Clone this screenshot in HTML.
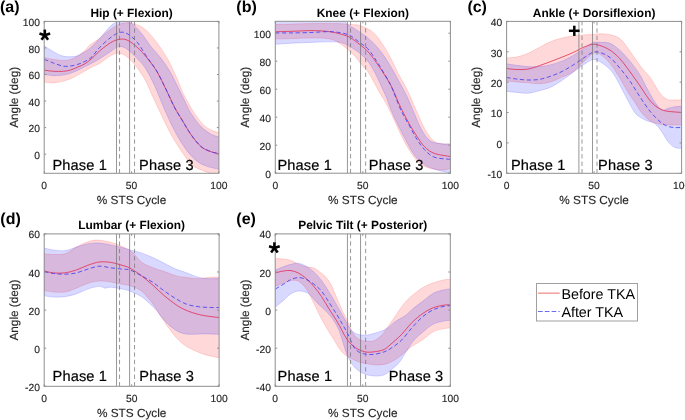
<!DOCTYPE html><html><head><meta charset="utf-8"><style>html,body{margin:0;padding:0;background:#fff;width:685px;height:420px;overflow:hidden}svg{display:block;will-change:transform}text{font-family:"Liberation Sans",sans-serif;text-rendering:geometricPrecision}</style></head><body>
<svg width="685" height="420" viewBox="0 0 685 420">
<rect width="685" height="420" fill="#fff"/>
<defs>
<clipPath id="ca"><rect x="44.2" y="21.4" width="174.7" height="151.9"/></clipPath>
<clipPath id="cb"><rect x="275.3" y="21.3" width="175.1" height="151.9"/></clipPath>
<clipPath id="cc"><rect x="506.6" y="21.4" width="175" height="151.9"/></clipPath>
<clipPath id="cd"><rect x="44.2" y="233.9" width="174.9" height="152.4"/></clipPath>
<clipPath id="ce"><rect x="275.2" y="233.9" width="175.1" height="152.4"/></clipPath>
</defs>
<g clip-path="url(#ca)">
<path d="M44.30,57.50C45.90,57.83 50.72,59.00 53.90,59.50C57.08,60.00 60.62,60.50 63.40,60.50C66.18,60.50 68.22,60.25 70.60,59.50C72.98,58.75 75.32,57.50 77.70,56.00C80.08,54.50 82.85,52.33 84.90,50.50C86.95,48.67 87.58,47.01 90.00,45.00C92.42,42.99 95.92,41.09 99.40,38.44C102.88,35.78 107.08,31.58 110.90,29.06C114.72,26.53 118.48,24.19 122.30,23.30C126.12,22.41 129.98,22.68 133.80,23.70C137.62,24.72 141.38,26.28 145.20,29.40C149.02,32.52 152.88,37.33 156.70,42.41C160.52,47.48 164.55,53.43 168.10,59.85C171.65,66.27 175.35,75.06 178.00,80.92C180.65,86.78 181.20,89.54 184.00,95.00C186.80,100.46 191.32,108.50 194.80,113.70C198.28,118.90 201.53,123.22 204.90,126.20C208.27,129.18 212.57,130.62 215.00,131.58C217.43,132.55 218.75,131.93 219.50,132.00L219.50,175.00C218.08,174.71 214.45,174.30 211.00,173.29C207.55,172.28 202.18,170.52 198.80,168.92C195.42,167.33 193.73,166.89 190.70,163.72C187.67,160.55 183.97,154.93 180.60,149.91C177.23,144.89 173.87,139.78 170.50,133.60C167.13,127.42 163.57,119.47 160.40,112.86C157.23,106.25 154.03,99.42 151.50,93.94C148.97,88.46 147.83,84.70 145.20,79.99C142.57,75.29 138.88,69.68 135.70,65.70C132.52,61.72 128.97,58.17 126.10,56.10C123.23,54.03 121.03,53.40 118.50,53.30C115.97,53.20 114.08,53.80 110.90,55.50C107.72,57.20 102.55,61.58 99.40,63.50C96.25,65.42 94.42,65.75 92.00,67.00C89.58,68.25 87.28,69.65 84.90,71.00C82.52,72.35 80.08,73.82 77.70,75.10C75.32,76.38 72.98,77.70 70.60,78.70C68.22,79.70 66.18,80.40 63.40,81.10C60.62,81.80 57.08,82.70 53.90,82.90C50.72,83.10 45.90,82.40 44.30,82.30Z" fill="rgb(255,0,0)" fill-opacity="0.15" stroke="rgb(255,0,0)" stroke-opacity="0.18" stroke-width="0.8"/>
<path d="M44.30,46.00C45.90,46.98 51.12,50.32 53.90,51.90C56.68,53.48 58.62,54.70 61.00,55.50C63.38,56.30 65.62,56.60 68.20,56.70C70.78,56.80 74.12,56.70 76.50,56.10C78.88,55.50 80.32,54.37 82.50,53.10C84.68,51.83 86.78,50.90 89.60,48.50C92.42,46.10 95.85,42.54 99.40,38.72C102.95,34.90 107.72,28.47 110.90,25.60C114.08,22.73 116.60,22.35 118.50,21.50C120.40,20.65 120.07,20.13 122.30,20.50C124.53,20.87 128.72,21.57 131.90,23.70C135.08,25.83 138.23,29.52 141.40,33.30C144.57,37.08 147.72,42.33 150.90,46.38C154.08,50.42 157.32,53.36 160.50,57.55C163.68,61.73 167.08,66.55 170.00,71.50C172.92,76.45 175.90,83.12 178.00,87.27C180.10,91.43 180.48,92.20 182.60,96.42C184.72,100.65 187.65,107.64 190.70,112.63C193.75,117.62 197.52,122.76 200.90,126.35C204.28,129.94 207.90,132.39 211.00,134.18C214.10,135.98 218.08,136.61 219.50,137.10L219.50,169.50C217.07,168.85 209.02,167.31 204.90,165.62C200.78,163.93 198.17,162.37 194.80,159.38C191.43,156.39 188.08,152.49 184.70,147.69C181.32,142.89 177.88,136.99 174.50,130.57C171.12,124.15 167.70,116.58 164.40,109.15C161.10,101.72 157.90,92.87 154.70,86.00C151.50,79.13 148.37,72.76 145.20,67.95C142.03,63.13 138.88,60.34 135.70,57.10C132.52,53.86 128.97,50.25 126.10,48.50C123.23,46.75 121.03,46.12 118.50,46.60C115.97,47.08 114.08,49.33 110.90,51.40C107.72,53.47 102.55,57.03 99.40,59.00C96.25,60.97 94.42,61.90 92.00,63.20C89.58,64.50 87.28,65.60 84.90,66.80C82.52,68.00 80.08,69.32 77.70,70.40C75.32,71.48 72.98,72.52 70.60,73.30C68.22,74.08 66.18,74.70 63.40,75.10C60.62,75.50 57.08,75.80 53.90,75.70C50.72,75.60 45.90,74.70 44.30,74.50Z" fill="rgb(0,0,255)" fill-opacity="0.15" stroke="rgb(0,0,255)" stroke-opacity="0.18" stroke-width="0.8"/>
<path d="M44.30,70.20C45.90,70.38 50.72,71.12 53.90,71.30C57.08,71.48 60.62,71.52 63.40,71.30C66.18,71.08 68.22,70.70 70.60,70.00C72.98,69.30 75.32,68.13 77.70,67.10C80.08,66.07 82.52,65.26 84.90,63.80C87.28,62.34 89.58,60.44 92.00,58.33C94.42,56.22 96.25,53.79 99.40,51.15C102.55,48.50 107.40,44.47 110.90,42.47C114.40,40.47 117.55,39.47 120.40,39.14C123.25,38.82 125.13,39.09 128.00,40.50C130.87,41.91 134.42,44.68 137.60,47.60C140.78,50.52 143.92,54.09 147.10,58.03C150.28,61.97 153.50,65.90 156.70,71.23C159.90,76.56 163.33,84.03 166.30,90.01C169.27,95.98 171.78,101.93 174.50,107.08C177.22,112.22 179.90,116.34 182.60,120.86C185.30,125.39 187.65,129.93 190.70,134.20C193.75,138.47 197.52,143.58 200.90,146.50C204.28,149.42 207.90,150.48 211.00,151.70C214.10,152.92 218.08,153.45 219.50,153.80" fill="none" stroke="rgb(226,40,80)" stroke-width="0.78"/>
<path d="M44.30,59.30C45.90,59.95 50.72,62.05 53.90,63.20C57.08,64.35 60.62,65.73 63.40,66.20C66.18,66.67 68.22,66.30 70.60,66.00C72.98,65.70 75.32,65.17 77.70,64.40C80.08,63.63 82.52,62.68 84.90,61.40C87.28,60.12 89.58,58.98 92.00,56.70C94.42,54.42 96.25,50.95 99.40,47.72C102.55,44.49 107.40,39.89 110.90,37.32C114.40,34.75 117.55,32.82 120.40,32.30C123.25,31.78 125.13,32.45 128.00,34.20C130.87,35.95 134.42,38.95 137.60,42.80C140.78,46.65 143.92,52.61 147.10,57.31C150.28,62.01 153.50,65.56 156.70,71.00C159.90,76.44 163.33,83.86 166.30,89.96C169.27,96.06 171.78,102.43 174.50,107.60C177.22,112.77 179.90,116.55 182.60,120.98C185.30,125.42 187.65,129.95 190.70,134.20C193.75,138.45 197.52,143.58 200.90,146.50C204.28,149.42 207.90,150.48 211.00,151.70C214.10,152.92 218.08,153.45 219.50,153.80" fill="none" stroke="rgb(60,60,242)" stroke-width="0.82" stroke-dasharray="4.2,2.6"/>
<line x1="116.5" y1="21.4" x2="116.5" y2="173.3" stroke="#767676" stroke-width="0.75"/>
<line x1="129.6" y1="21.4" x2="129.6" y2="173.3" stroke="#767676" stroke-width="0.75"/>
<line x1="119.55" y1="173.3" x2="119.55" y2="21.4" stroke="#767676" stroke-width="0.75" stroke-dasharray="4.3,3.1"/>
<line x1="134.55" y1="173.3" x2="134.55" y2="21.4" stroke="#767676" stroke-width="0.75" stroke-dasharray="4.3,3.1"/>
</g>
<rect x="44.2" y="21.4" width="174.7" height="151.9" fill="none" stroke="#8f8f8f" stroke-width="1"/>
<line x1="44.2" y1="173.3" x2="44.2" y2="171.3" stroke="#8f8f8f" stroke-width="1"/>
<line x1="44.2" y1="21.4" x2="44.2" y2="23.4" stroke="#8f8f8f" stroke-width="1"/>
<line x1="131.55" y1="173.3" x2="131.55" y2="171.3" stroke="#8f8f8f" stroke-width="1"/>
<line x1="131.55" y1="21.4" x2="131.55" y2="23.4" stroke="#8f8f8f" stroke-width="1"/>
<line x1="218.9" y1="173.3" x2="218.9" y2="171.3" stroke="#8f8f8f" stroke-width="1"/>
<line x1="218.9" y1="21.4" x2="218.9" y2="23.4" stroke="#8f8f8f" stroke-width="1"/>
<line x1="44.2" y1="154.18" x2="46.2" y2="154.18" stroke="#8f8f8f" stroke-width="1"/>
<line x1="218.9" y1="154.18" x2="216.9" y2="154.18" stroke="#8f8f8f" stroke-width="1"/>
<line x1="44.2" y1="127.624" x2="46.2" y2="127.624" stroke="#8f8f8f" stroke-width="1"/>
<line x1="218.9" y1="127.624" x2="216.9" y2="127.624" stroke="#8f8f8f" stroke-width="1"/>
<line x1="44.2" y1="101.068" x2="46.2" y2="101.068" stroke="#8f8f8f" stroke-width="1"/>
<line x1="218.9" y1="101.068" x2="216.9" y2="101.068" stroke="#8f8f8f" stroke-width="1"/>
<line x1="44.2" y1="74.5119" x2="46.2" y2="74.5119" stroke="#8f8f8f" stroke-width="1"/>
<line x1="218.9" y1="74.5119" x2="216.9" y2="74.5119" stroke="#8f8f8f" stroke-width="1"/>
<line x1="44.2" y1="47.9559" x2="46.2" y2="47.9559" stroke="#8f8f8f" stroke-width="1"/>
<line x1="218.9" y1="47.9559" x2="216.9" y2="47.9559" stroke="#8f8f8f" stroke-width="1"/>
<line x1="44.2" y1="21.4" x2="46.2" y2="21.4" stroke="#8f8f8f" stroke-width="1"/>
<line x1="218.9" y1="21.4" x2="216.9" y2="21.4" stroke="#8f8f8f" stroke-width="1"/>
<g clip-path="url(#cb)">
<path d="M275.30,24.50C278.08,24.43 286.03,24.25 292.00,24.10C297.97,23.95 304.73,23.69 311.10,23.60C317.47,23.51 325.12,23.57 330.20,23.59C335.28,23.60 337.78,23.51 341.60,23.70C345.42,23.89 350.03,24.40 353.10,24.70C356.17,25.00 356.95,24.45 360.00,25.50C363.05,26.55 368.23,28.75 371.40,31.00C374.57,33.25 376.13,35.13 379.00,39.00C381.87,42.87 385.42,48.50 388.60,54.20C391.78,59.90 395.25,67.73 398.10,73.20C400.95,78.67 403.72,83.20 405.70,87.00C407.68,90.80 408.17,91.93 410.00,96.00C411.83,100.07 414.28,106.04 416.70,111.44C419.12,116.83 421.90,123.68 424.50,128.39C427.10,133.09 429.70,137.14 432.30,139.67C434.90,142.20 437.07,142.90 440.10,143.57C443.13,144.24 448.77,143.68 450.50,143.70L450.50,168.80C448.77,169.01 444.12,170.34 440.10,170.08C436.08,169.81 429.98,168.50 426.40,167.20C422.82,165.90 421.20,164.73 418.60,162.30C416.00,159.87 413.40,156.50 410.80,152.60C408.20,148.70 405.60,143.95 403.00,138.90C400.40,133.85 397.80,127.83 395.20,122.30C392.60,116.77 390.05,110.75 387.40,105.70C384.75,100.65 381.65,96.13 379.30,92.00C376.95,87.87 375.25,84.35 373.30,80.90C371.35,77.45 369.82,74.32 367.60,71.30C365.38,68.28 362.42,65.65 360.00,62.80C357.58,59.95 356.17,57.22 353.10,54.20C350.03,51.18 345.42,47.23 341.60,44.70C337.78,42.17 335.28,40.12 330.20,39.00C325.12,37.88 317.47,38.07 311.10,38.00C304.73,37.93 297.97,38.43 292.00,38.60C286.03,38.77 278.08,38.93 275.30,39.00Z" fill="rgb(255,0,0)" fill-opacity="0.15" stroke="rgb(255,0,0)" stroke-opacity="0.18" stroke-width="0.8"/>
<path d="M275.30,19.50C279.42,19.50 289.58,19.50 300.00,19.50C310.42,19.50 329.58,18.48 337.80,19.50C346.02,20.52 345.60,23.48 349.30,25.60C353.00,27.72 356.32,29.65 360.00,32.20C363.68,34.75 367.58,37.23 371.40,40.90C375.22,44.57 379.40,49.45 382.90,54.20C386.40,58.95 389.23,64.00 392.40,69.40C395.57,74.80 399.50,82.17 401.90,86.60C404.30,91.03 404.98,92.14 406.80,96.00C408.62,99.86 410.50,104.47 412.80,109.76C415.10,115.05 418.00,122.80 420.60,127.73C423.20,132.66 425.80,136.79 428.40,139.34C431.00,141.89 432.52,142.20 436.20,143.04C439.88,143.89 448.12,144.17 450.50,144.40L450.50,173.10C448.12,172.53 440.53,171.08 436.20,169.70C431.87,168.32 428.08,167.16 424.50,164.80C420.92,162.44 417.63,159.27 414.70,155.52C411.77,151.77 409.50,147.03 406.90,142.31C404.30,137.59 401.70,132.48 399.10,127.20C396.50,121.92 393.37,115.43 391.30,110.60C389.23,105.77 388.42,102.35 386.70,98.20C384.98,94.05 382.92,89.87 381.00,85.70C379.08,81.53 377.43,77.33 375.20,73.20C372.97,69.07 370.13,64.18 367.60,60.90C365.07,57.62 362.42,55.57 360.00,53.50C357.58,51.43 356.17,50.28 353.10,48.50C350.03,46.72 345.42,43.92 341.60,42.80C337.78,41.68 335.28,41.87 330.20,41.80C325.12,41.73 317.47,42.17 311.10,42.40C304.73,42.63 297.97,42.88 292.00,43.20C286.03,43.52 278.08,44.12 275.30,44.30Z" fill="rgb(0,0,255)" fill-opacity="0.15" stroke="rgb(0,0,255)" stroke-opacity="0.18" stroke-width="0.8"/>
<path d="M275.30,31.70C278.08,31.63 286.03,31.48 292.00,31.30C297.97,31.12 305.37,30.60 311.10,30.60C316.83,30.60 321.95,30.85 326.40,31.30C330.85,31.75 333.98,32.33 337.80,33.30C341.62,34.27 345.60,35.20 349.30,37.10C353.00,39.00 356.95,42.33 360.00,44.70C363.05,47.07 365.07,48.60 367.60,51.30C370.13,54.00 372.65,57.40 375.20,60.90C377.75,64.40 380.35,68.33 382.90,72.30C385.45,76.27 388.45,80.92 390.50,84.70C392.55,88.48 393.45,91.05 395.20,94.95C396.95,98.85 398.72,103.38 401.00,108.10C403.28,112.82 406.28,118.65 408.90,123.30C411.52,127.95 414.10,132.10 416.70,136.00C419.30,139.90 421.58,143.81 424.50,146.70C427.42,149.59 429.87,151.68 434.20,153.33C438.53,154.98 447.78,156.06 450.50,156.60" fill="none" stroke="rgb(226,40,80)" stroke-width="0.78"/>
<path d="M275.30,32.90C278.08,32.90 286.03,32.97 292.00,32.90C297.97,32.83 305.37,32.70 311.10,32.50C316.83,32.30 321.95,31.73 326.40,31.70C330.85,31.67 333.98,31.72 337.80,32.30C341.62,32.88 345.60,33.45 349.30,35.20C353.00,36.95 356.95,40.58 360.00,42.80C363.05,45.02 365.07,45.80 367.60,48.50C370.13,51.20 372.65,55.20 375.20,59.00C377.75,62.80 380.35,67.02 382.90,71.30C385.45,75.58 388.45,80.59 390.50,84.70C392.55,88.81 393.45,91.69 395.20,95.97C396.95,100.24 398.72,105.54 401.00,110.35C403.28,115.16 406.28,120.03 408.90,124.80C411.52,129.58 414.10,134.85 416.70,138.98C419.30,143.12 421.58,146.59 424.50,149.61C427.42,152.64 429.87,155.52 434.20,157.15C438.53,158.78 447.78,159.03 450.50,159.40" fill="none" stroke="rgb(60,60,242)" stroke-width="0.82" stroke-dasharray="4.2,2.6"/>
<line x1="347.45" y1="21.3" x2="347.45" y2="173.2" stroke="#767676" stroke-width="0.75"/>
<line x1="360.55" y1="21.3" x2="360.55" y2="173.2" stroke="#767676" stroke-width="0.75"/>
<line x1="350.55" y1="173.2" x2="350.55" y2="21.3" stroke="#767676" stroke-width="0.75" stroke-dasharray="4.3,3.1"/>
<line x1="365.65" y1="173.2" x2="365.65" y2="21.3" stroke="#767676" stroke-width="0.75" stroke-dasharray="4.3,3.1"/>
</g>
<rect x="275.3" y="21.3" width="175.1" height="151.9" fill="none" stroke="#8f8f8f" stroke-width="1"/>
<line x1="275.3" y1="173.2" x2="275.3" y2="171.2" stroke="#8f8f8f" stroke-width="1"/>
<line x1="275.3" y1="21.3" x2="275.3" y2="23.3" stroke="#8f8f8f" stroke-width="1"/>
<line x1="362.85" y1="173.2" x2="362.85" y2="171.2" stroke="#8f8f8f" stroke-width="1"/>
<line x1="362.85" y1="21.3" x2="362.85" y2="23.3" stroke="#8f8f8f" stroke-width="1"/>
<line x1="450.4" y1="173.2" x2="450.4" y2="171.2" stroke="#8f8f8f" stroke-width="1"/>
<line x1="450.4" y1="21.3" x2="450.4" y2="23.3" stroke="#8f8f8f" stroke-width="1"/>
<line x1="275.3" y1="173.2" x2="277.3" y2="173.2" stroke="#8f8f8f" stroke-width="1"/>
<line x1="450.4" y1="173.2" x2="448.4" y2="173.2" stroke="#8f8f8f" stroke-width="1"/>
<line x1="275.3" y1="145.2" x2="277.3" y2="145.2" stroke="#8f8f8f" stroke-width="1"/>
<line x1="450.4" y1="145.2" x2="448.4" y2="145.2" stroke="#8f8f8f" stroke-width="1"/>
<line x1="275.3" y1="117.2" x2="277.3" y2="117.2" stroke="#8f8f8f" stroke-width="1"/>
<line x1="450.4" y1="117.2" x2="448.4" y2="117.2" stroke="#8f8f8f" stroke-width="1"/>
<line x1="275.3" y1="89.2" x2="277.3" y2="89.2" stroke="#8f8f8f" stroke-width="1"/>
<line x1="450.4" y1="89.2" x2="448.4" y2="89.2" stroke="#8f8f8f" stroke-width="1"/>
<line x1="275.3" y1="61.2" x2="277.3" y2="61.2" stroke="#8f8f8f" stroke-width="1"/>
<line x1="450.4" y1="61.2" x2="448.4" y2="61.2" stroke="#8f8f8f" stroke-width="1"/>
<line x1="275.3" y1="33.2" x2="277.3" y2="33.2" stroke="#8f8f8f" stroke-width="1"/>
<line x1="450.4" y1="33.2" x2="448.4" y2="33.2" stroke="#8f8f8f" stroke-width="1"/>
<g clip-path="url(#cc)">
<path d="M506.50,58.00C508.15,57.85 512.83,57.88 516.40,57.10C519.97,56.32 524.08,54.90 527.90,53.30C531.72,51.70 535.48,49.47 539.30,47.50C543.12,45.53 546.98,43.08 550.80,41.50C554.62,39.92 558.40,38.95 562.20,38.00C566.00,37.05 569.78,36.33 573.60,35.80C577.42,35.27 581.87,35.00 585.10,34.80C588.33,34.60 590.42,34.77 593.00,34.60C595.58,34.43 597.43,33.72 600.60,33.80C603.77,33.88 608.48,34.02 612.00,35.10C615.52,36.18 618.15,36.82 621.70,40.30C625.25,43.77 629.97,51.39 633.30,55.97C636.63,60.54 638.92,64.23 641.70,67.77C644.48,71.30 647.78,74.22 650.00,77.15C652.22,80.08 653.33,82.67 655.00,85.36C656.67,88.05 658.05,90.99 660.00,93.30C661.95,95.61 664.48,98.08 666.70,99.20C668.92,100.32 670.67,99.92 673.30,100.00C675.93,100.08 680.97,99.75 682.50,99.70L682.50,125.00C680.42,125.00 673.75,125.13 670.00,125.00C666.25,124.87 663.33,124.90 660.00,124.20C656.67,123.50 653.17,122.85 650.00,120.80C646.83,118.75 643.50,114.94 641.00,111.89C638.50,108.84 637.17,105.74 635.00,102.50C632.83,99.26 630.50,96.45 628.00,92.43C625.50,88.41 623.00,83.23 620.00,78.40C617.00,73.57 613.33,67.46 610.00,63.44C606.67,59.43 602.83,55.96 600.00,54.30C597.17,52.64 595.48,52.47 593.00,53.50C590.52,54.53 588.33,57.50 585.10,60.48C581.87,63.47 577.42,68.63 573.60,71.40C569.78,74.17 566.00,75.35 562.20,77.10C558.40,78.85 554.62,80.78 550.80,81.90C546.98,83.02 543.12,83.65 539.30,83.80C535.48,83.95 531.72,83.12 527.90,82.80C524.08,82.48 519.97,82.22 516.40,81.90C512.83,81.58 508.15,81.07 506.50,80.90Z" fill="rgb(255,0,0)" fill-opacity="0.15" stroke="rgb(255,0,0)" stroke-opacity="0.18" stroke-width="0.8"/>
<path d="M506.50,63.80C508.15,64.05 512.83,64.83 516.40,65.30C519.97,65.77 524.08,66.38 527.90,66.60C531.72,66.82 535.48,66.92 539.30,66.60C543.12,66.28 546.98,65.65 550.80,64.70C554.62,63.75 558.40,62.48 562.20,60.90C566.00,59.32 569.78,57.42 573.60,55.20C577.42,52.98 581.87,49.70 585.10,47.60C588.33,45.50 590.52,43.48 593.00,42.60C595.48,41.72 597.17,42.19 600.00,42.30C602.83,42.41 606.67,41.92 610.00,43.27C613.33,44.62 616.67,47.44 620.00,50.42C623.33,53.40 626.67,57.09 630.00,61.17C633.33,65.25 637.22,70.47 640.00,74.90C642.78,79.33 644.20,83.20 646.70,87.77C649.20,92.33 652.50,98.58 655.00,102.29C657.50,105.99 659.48,109.00 661.70,110.00C663.92,111.00 666.08,108.85 668.30,108.30C670.52,107.75 672.63,107.03 675.00,106.70C677.37,106.37 681.25,106.37 682.50,106.30L682.50,148.30C681.25,148.17 677.37,148.54 675.00,147.50C672.63,146.46 670.52,144.72 668.30,142.08C666.08,139.45 663.92,134.74 661.70,131.68C659.48,128.63 657.78,125.72 655.00,123.77C652.22,121.82 648.05,121.46 645.00,119.97C641.95,118.48 638.92,116.89 636.70,114.82C634.48,112.75 633.65,110.84 631.70,107.53C629.75,104.23 627.50,99.74 625.00,95.01C622.50,90.27 619.20,83.39 616.70,79.13C614.20,74.87 612.78,72.35 610.00,69.44C607.22,66.52 602.83,63.30 600.00,61.65C597.17,60.00 595.48,59.19 593.00,59.55C590.52,59.91 588.33,61.72 585.10,63.81C581.87,65.90 577.42,69.35 573.60,72.09C569.78,74.84 566.00,77.77 562.20,80.28C558.40,82.79 554.62,85.40 550.80,87.15C546.98,88.89 543.12,89.73 539.30,90.75C535.48,91.78 531.72,93.03 527.90,93.30C524.08,93.57 519.97,92.72 516.40,92.40C512.83,92.08 508.15,91.57 506.50,91.40Z" fill="rgb(0,0,255)" fill-opacity="0.15" stroke="rgb(0,0,255)" stroke-opacity="0.18" stroke-width="0.8"/>
<path d="M506.50,68.50C508.15,68.67 512.83,69.40 516.40,69.50C519.97,69.60 524.08,69.73 527.90,69.10C531.72,68.47 535.48,66.97 539.30,65.70C543.12,64.43 546.98,62.93 550.80,61.50C554.62,60.07 558.40,58.63 562.20,57.10C566.00,55.57 569.78,54.05 573.60,52.30C577.42,50.55 581.87,47.93 585.10,46.60C588.33,45.27 590.52,44.48 593.00,44.30C595.48,44.12 597.17,44.52 600.00,45.50C602.83,46.48 606.67,47.93 610.00,50.16C613.33,52.38 616.67,55.25 620.00,58.86C623.33,62.47 626.67,67.32 630.00,71.82C633.33,76.33 637.00,81.55 640.00,85.90C643.00,90.25 645.50,94.66 648.00,97.94C650.50,101.22 652.45,103.50 655.00,105.56C657.55,107.62 660.52,109.28 663.30,110.30C666.08,111.32 668.50,111.33 671.70,111.70C674.90,112.07 680.70,112.37 682.50,112.50" fill="none" stroke="rgb(226,40,80)" stroke-width="0.78"/>
<path d="M506.50,77.50C508.15,77.75 512.83,78.58 516.40,79.00C519.97,79.42 524.08,79.93 527.90,80.00C531.72,80.07 535.48,80.03 539.30,79.40C543.12,78.77 546.98,77.53 550.80,76.20C554.62,74.87 558.40,73.32 562.20,71.40C566.00,69.48 569.78,67.10 573.60,64.70C577.42,62.30 581.87,59.07 585.10,57.00C588.33,54.93 590.52,53.05 593.00,52.30C595.48,51.55 597.17,51.63 600.00,52.50C602.83,53.37 606.67,54.87 610.00,57.50C613.33,60.13 616.67,64.34 620.00,68.30C623.33,72.26 626.67,76.46 630.00,81.24C633.33,86.01 636.67,91.96 640.00,96.95C643.33,101.95 646.67,107.08 650.00,111.20C653.33,115.32 657.22,119.27 660.00,121.70C662.78,124.13 664.48,124.83 666.70,125.80C668.92,126.77 670.67,127.22 673.30,127.50C675.93,127.78 680.97,127.50 682.50,127.50" fill="none" stroke="rgb(60,60,242)" stroke-width="0.82" stroke-dasharray="4.2,2.6"/>
<line x1="578.9" y1="21.4" x2="578.9" y2="173.3" stroke="#767676" stroke-width="0.75"/>
<line x1="592.5" y1="21.4" x2="592.5" y2="173.3" stroke="#767676" stroke-width="0.75"/>
<line x1="582" y1="173.3" x2="582" y2="21.4" stroke="#767676" stroke-width="0.75" stroke-dasharray="4.3,3.1"/>
<line x1="597" y1="173.3" x2="597" y2="21.4" stroke="#767676" stroke-width="0.75" stroke-dasharray="4.3,3.1"/>
</g>
<rect x="506.6" y="21.4" width="175" height="151.9" fill="none" stroke="#8f8f8f" stroke-width="1"/>
<line x1="506.6" y1="173.3" x2="506.6" y2="171.3" stroke="#8f8f8f" stroke-width="1"/>
<line x1="506.6" y1="21.4" x2="506.6" y2="23.4" stroke="#8f8f8f" stroke-width="1"/>
<line x1="594.1" y1="173.3" x2="594.1" y2="171.3" stroke="#8f8f8f" stroke-width="1"/>
<line x1="594.1" y1="21.4" x2="594.1" y2="23.4" stroke="#8f8f8f" stroke-width="1"/>
<line x1="681.6" y1="173.3" x2="681.6" y2="171.3" stroke="#8f8f8f" stroke-width="1"/>
<line x1="681.6" y1="21.4" x2="681.6" y2="23.4" stroke="#8f8f8f" stroke-width="1"/>
<line x1="506.6" y1="173.3" x2="508.6" y2="173.3" stroke="#8f8f8f" stroke-width="1"/>
<line x1="681.6" y1="173.3" x2="679.6" y2="173.3" stroke="#8f8f8f" stroke-width="1"/>
<line x1="506.6" y1="142.92" x2="508.6" y2="142.92" stroke="#8f8f8f" stroke-width="1"/>
<line x1="681.6" y1="142.92" x2="679.6" y2="142.92" stroke="#8f8f8f" stroke-width="1"/>
<line x1="506.6" y1="112.54" x2="508.6" y2="112.54" stroke="#8f8f8f" stroke-width="1"/>
<line x1="681.6" y1="112.54" x2="679.6" y2="112.54" stroke="#8f8f8f" stroke-width="1"/>
<line x1="506.6" y1="82.16" x2="508.6" y2="82.16" stroke="#8f8f8f" stroke-width="1"/>
<line x1="681.6" y1="82.16" x2="679.6" y2="82.16" stroke="#8f8f8f" stroke-width="1"/>
<line x1="506.6" y1="51.78" x2="508.6" y2="51.78" stroke="#8f8f8f" stroke-width="1"/>
<line x1="681.6" y1="51.78" x2="679.6" y2="51.78" stroke="#8f8f8f" stroke-width="1"/>
<line x1="506.6" y1="21.4" x2="508.6" y2="21.4" stroke="#8f8f8f" stroke-width="1"/>
<line x1="681.6" y1="21.4" x2="679.6" y2="21.4" stroke="#8f8f8f" stroke-width="1"/>
<g clip-path="url(#cd)">
<path d="M44.30,253.80C45.82,253.90 49.97,254.40 53.40,254.40C56.83,254.40 61.08,255.02 64.90,253.80C68.72,252.58 72.48,249.10 76.30,247.10C80.12,245.10 84.30,242.97 87.80,241.80C91.30,240.63 93.50,240.02 97.30,240.10C101.10,240.18 106.47,241.25 110.60,242.30C114.73,243.35 118.53,244.78 122.10,246.40C125.67,248.02 128.78,249.40 132.00,252.00C135.22,254.60 137.92,259.38 141.40,262.00C144.88,264.62 149.08,266.12 152.90,267.70C156.72,269.28 160.50,270.17 164.30,271.50C168.10,272.83 171.90,274.68 175.70,275.70C179.50,276.72 183.28,277.12 187.10,277.60C190.92,278.08 194.78,278.67 198.60,278.60C202.42,278.53 206.52,277.43 210.00,277.20C213.48,276.97 217.92,277.20 219.50,277.20L219.50,357.90C217.10,357.37 209.30,355.95 205.10,354.70C200.90,353.45 197.52,351.83 194.30,350.40C191.08,348.97 188.65,348.07 185.80,346.10C182.95,344.13 180.07,341.63 177.20,338.60C174.33,335.57 171.47,331.83 168.60,327.90C165.73,323.97 162.60,318.98 160.00,315.00C157.40,311.02 154.83,306.67 153.00,304.00C151.17,301.33 150.93,301.17 149.00,299.00C147.07,296.83 144.40,293.17 141.40,291.00C138.40,288.83 134.22,287.12 131.00,286.00C127.78,284.88 125.50,284.98 122.10,284.30C118.70,283.62 114.42,282.43 110.60,281.90C106.78,281.37 103.00,280.85 99.20,281.10C95.40,281.35 91.62,282.22 87.80,283.40C83.98,284.58 80.12,286.77 76.30,288.20C72.48,289.63 68.72,291.37 64.90,292.00C61.08,292.63 56.83,292.23 53.40,292.00C49.97,291.77 45.82,290.83 44.30,290.60Z" fill="rgb(255,0,0)" fill-opacity="0.15" stroke="rgb(255,0,0)" stroke-opacity="0.18" stroke-width="0.8"/>
<path d="M44.30,248.10C45.82,248.42 49.97,249.58 53.40,250.00C56.83,250.42 61.08,251.07 64.90,250.60C68.72,250.13 72.48,248.35 76.30,247.20C80.12,246.05 83.98,244.40 87.80,243.70C91.62,243.00 95.40,242.80 99.20,243.00C103.00,243.20 106.78,244.15 110.60,244.90C114.42,245.65 118.53,246.57 122.10,247.50C125.67,248.43 128.78,249.60 132.00,250.50C135.22,251.40 137.92,251.72 141.40,252.90C144.88,254.08 149.08,255.87 152.90,257.60C156.72,259.33 160.50,261.40 164.30,263.30C168.10,265.20 171.90,267.40 175.70,269.00C179.50,270.60 183.60,271.62 187.10,272.90C190.60,274.18 193.52,275.75 196.70,276.70C199.88,277.65 202.40,278.28 206.20,278.60C210.00,278.92 217.28,278.60 219.50,278.60L219.50,334.30C216.73,334.23 207.82,333.90 202.90,333.90C197.98,333.90 193.93,334.58 190.00,334.30C186.07,334.02 182.87,333.80 179.30,332.20C175.73,330.60 171.82,327.57 168.60,324.70C165.38,321.83 161.98,317.37 160.00,315.00C158.02,312.63 158.53,312.50 156.70,310.50C154.87,308.50 151.45,305.25 149.00,303.00C146.55,300.75 145.00,298.92 142.00,297.00C139.00,295.08 134.32,292.82 131.00,291.50C127.68,290.18 125.50,289.82 122.10,289.10C118.70,288.38 113.47,287.35 110.60,287.20C107.73,287.05 106.80,288.35 104.90,288.20C103.00,288.05 102.05,286.15 99.20,286.30C96.35,286.45 91.62,287.83 87.80,289.10C83.98,290.37 80.12,292.63 76.30,293.90C72.48,295.17 68.72,296.17 64.90,296.70C61.08,297.23 56.83,297.25 53.40,297.10C49.97,296.95 45.82,296.02 44.30,295.80Z" fill="rgb(0,0,255)" fill-opacity="0.15" stroke="rgb(0,0,255)" stroke-opacity="0.18" stroke-width="0.8"/>
<path d="M44.30,271.00C45.82,271.32 49.97,272.58 53.40,272.90C56.83,273.22 61.08,273.38 64.90,272.90C68.72,272.42 72.48,271.27 76.30,270.00C80.12,268.73 83.98,266.63 87.80,265.30C91.62,263.97 95.40,262.48 99.20,262.00C103.00,261.52 106.78,261.85 110.60,262.40C114.42,262.95 118.87,264.35 122.10,265.30C125.33,266.25 126.78,266.37 130.00,268.10C133.22,269.83 137.58,272.85 141.40,275.70C145.22,278.55 149.08,281.87 152.90,285.20C156.72,288.53 160.50,292.48 164.30,295.70C168.10,298.92 172.85,302.45 175.70,304.50C178.55,306.55 179.02,306.78 181.40,308.00C183.78,309.22 186.42,310.57 190.00,311.80C193.58,313.03 197.98,314.43 202.90,315.40C207.82,316.37 216.73,317.23 219.50,317.60" fill="none" stroke="rgb(226,40,80)" stroke-width="0.78"/>
<path d="M44.30,271.60C45.82,271.92 49.97,273.07 53.40,273.50C56.83,273.93 61.08,274.30 64.90,274.20C68.72,274.10 72.48,273.75 76.30,272.90C80.12,272.05 83.98,270.22 87.80,269.10C91.62,267.98 95.40,266.42 99.20,266.20C103.00,265.98 106.78,267.32 110.60,267.80C114.42,268.28 118.87,268.73 122.10,269.10C125.33,269.47 126.78,268.90 130.00,270.00C133.22,271.10 137.58,273.63 141.40,275.70C145.22,277.77 149.08,279.85 152.90,282.40C156.72,284.95 160.50,288.30 164.30,291.00C168.10,293.70 171.90,296.37 175.70,298.60C179.50,300.83 183.28,303.05 187.10,304.40C190.92,305.75 194.78,306.18 198.60,306.70C202.42,307.22 206.52,307.37 210.00,307.50C213.48,307.63 217.92,307.50 219.50,307.50" fill="none" stroke="rgb(60,60,242)" stroke-width="0.82" stroke-dasharray="4.2,2.6"/>
<line x1="116.5" y1="233.9" x2="116.5" y2="386.3" stroke="#767676" stroke-width="0.75"/>
<line x1="129.6" y1="233.9" x2="129.6" y2="386.3" stroke="#767676" stroke-width="0.75"/>
<line x1="119.55" y1="386.3" x2="119.55" y2="233.9" stroke="#767676" stroke-width="0.75" stroke-dasharray="4.3,3.1"/>
<line x1="134.55" y1="386.3" x2="134.55" y2="233.9" stroke="#767676" stroke-width="0.75" stroke-dasharray="4.3,3.1"/>
</g>
<rect x="44.2" y="233.9" width="174.9" height="152.4" fill="none" stroke="#8f8f8f" stroke-width="1"/>
<line x1="44.2" y1="386.3" x2="44.2" y2="384.3" stroke="#8f8f8f" stroke-width="1"/>
<line x1="44.2" y1="233.9" x2="44.2" y2="235.9" stroke="#8f8f8f" stroke-width="1"/>
<line x1="131.65" y1="386.3" x2="131.65" y2="384.3" stroke="#8f8f8f" stroke-width="1"/>
<line x1="131.65" y1="233.9" x2="131.65" y2="235.9" stroke="#8f8f8f" stroke-width="1"/>
<line x1="219.1" y1="386.3" x2="219.1" y2="384.3" stroke="#8f8f8f" stroke-width="1"/>
<line x1="219.1" y1="233.9" x2="219.1" y2="235.9" stroke="#8f8f8f" stroke-width="1"/>
<line x1="44.2" y1="386.3" x2="46.2" y2="386.3" stroke="#8f8f8f" stroke-width="1"/>
<line x1="219.1" y1="386.3" x2="217.1" y2="386.3" stroke="#8f8f8f" stroke-width="1"/>
<line x1="44.2" y1="348.2" x2="46.2" y2="348.2" stroke="#8f8f8f" stroke-width="1"/>
<line x1="219.1" y1="348.2" x2="217.1" y2="348.2" stroke="#8f8f8f" stroke-width="1"/>
<line x1="44.2" y1="310.1" x2="46.2" y2="310.1" stroke="#8f8f8f" stroke-width="1"/>
<line x1="219.1" y1="310.1" x2="217.1" y2="310.1" stroke="#8f8f8f" stroke-width="1"/>
<line x1="44.2" y1="272" x2="46.2" y2="272" stroke="#8f8f8f" stroke-width="1"/>
<line x1="219.1" y1="272" x2="217.1" y2="272" stroke="#8f8f8f" stroke-width="1"/>
<line x1="44.2" y1="233.9" x2="46.2" y2="233.9" stroke="#8f8f8f" stroke-width="1"/>
<line x1="219.1" y1="233.9" x2="217.1" y2="233.9" stroke="#8f8f8f" stroke-width="1"/>
<g clip-path="url(#ce)">
<path d="M275.40,258.60C276.73,258.67 280.80,258.68 283.40,259.00C286.00,259.32 288.45,259.62 291.00,260.50C293.55,261.38 296.15,263.25 298.70,264.30C301.25,265.35 303.77,266.17 306.30,266.80C308.83,267.43 311.68,267.25 313.90,268.10C316.12,268.95 317.70,270.48 319.60,271.90C321.50,273.32 323.40,274.50 325.30,276.60C327.20,278.70 329.08,280.93 331.00,284.50C332.92,288.07 334.88,293.58 336.80,298.00C338.72,302.42 340.60,306.93 342.50,311.00C344.40,315.07 346.72,319.15 348.20,322.40C349.68,325.65 350.10,328.07 351.40,330.50C352.70,332.93 354.23,335.33 356.00,337.00C357.77,338.67 359.90,339.78 362.00,340.50C364.10,341.22 366.52,341.30 368.60,341.30C370.68,341.30 372.25,341.58 374.50,340.50C376.75,339.42 380.03,336.87 382.10,334.80C384.17,332.73 384.98,330.80 386.90,328.10C388.82,325.40 391.53,321.62 393.60,318.60C395.67,315.58 397.40,312.68 399.30,310.00C401.20,307.32 402.87,304.90 405.00,302.50C407.13,300.10 409.12,298.10 412.10,295.60C415.08,293.10 419.32,289.63 422.90,287.50C426.48,285.37 430.03,284.08 433.60,282.80C437.17,281.52 441.48,280.38 444.30,279.80C447.12,279.22 449.47,279.38 450.50,279.30L450.50,328.00C449.47,328.10 447.12,328.00 444.30,328.60C441.48,329.20 437.17,329.78 433.60,331.60C430.03,333.42 426.48,337.07 422.90,339.50C419.32,341.93 414.80,344.31 412.10,346.17C409.40,348.03 409.20,348.61 406.70,350.66C404.20,352.71 400.28,356.37 397.10,358.50C393.92,360.63 390.77,362.34 387.60,363.43C384.43,364.51 381.27,364.90 378.10,365.00C374.93,365.10 371.78,364.50 368.60,364.00C365.42,363.50 361.87,362.92 359.00,362.00C356.13,361.08 353.73,359.67 351.40,358.50C349.07,357.33 346.90,356.51 345.00,355.00C343.10,353.49 341.67,351.69 340.00,349.44C338.33,347.19 336.82,344.41 335.00,341.51C333.18,338.60 331.35,335.75 329.10,332.00C326.85,328.25 324.03,323.75 321.50,319.00C318.97,314.25 316.43,308.50 313.90,303.50C311.37,298.50 308.83,292.68 306.30,289.00C303.77,285.32 301.25,282.82 298.70,281.40C296.15,279.98 293.55,280.18 291.00,280.50C288.45,280.82 286.00,282.35 283.40,283.30C280.80,284.25 276.73,285.72 275.40,286.20Z" fill="rgb(255,0,0)" fill-opacity="0.15" stroke="rgb(255,0,0)" stroke-opacity="0.18" stroke-width="0.8"/>
<path d="M275.40,270.00C276.73,269.47 280.80,267.75 283.40,266.80C286.00,265.85 288.45,264.88 291.00,264.30C293.55,263.72 296.15,262.98 298.70,263.30C301.25,263.62 303.77,264.77 306.30,266.20C308.83,267.63 311.37,269.52 313.90,271.90C316.43,274.28 318.97,277.17 321.50,280.50C324.03,283.83 326.55,287.78 329.10,291.90C331.65,296.02 334.25,300.75 336.80,305.20C339.35,309.65 342.37,314.97 344.40,318.60C346.43,322.23 347.20,324.55 349.00,327.00C350.80,329.45 352.57,331.93 355.20,333.30C357.83,334.67 361.58,335.20 364.80,335.20C368.02,335.20 370.97,334.33 374.50,333.30C378.03,332.27 382.50,330.98 386.00,329.00C389.50,327.02 392.33,323.60 395.50,321.40C398.67,319.20 402.23,317.80 405.00,315.80C407.77,313.80 409.12,311.85 412.10,309.40C415.08,306.95 419.32,303.83 422.90,301.11C426.48,298.40 430.03,294.99 433.60,293.10C437.17,291.21 441.48,290.48 444.30,289.78C447.12,289.08 449.47,289.05 450.50,288.90L450.50,320.30C449.47,320.42 447.12,320.38 444.30,321.00C441.48,321.62 437.17,322.17 433.60,324.00C430.03,325.83 426.48,328.92 422.90,332.00C419.32,335.08 415.92,337.58 412.10,342.50C408.28,347.42 403.45,357.00 400.00,361.50C396.55,366.00 394.10,367.25 391.40,369.50C388.70,371.75 386.65,373.92 383.80,375.00C380.95,376.08 377.47,376.17 374.30,376.00C371.13,375.83 367.98,375.33 364.80,374.00C361.62,372.67 358.07,371.00 355.20,368.00C352.33,365.00 349.63,360.23 347.60,356.00C345.57,351.77 344.48,347.00 343.00,342.60C341.52,338.20 340.37,333.48 338.70,329.62C337.03,325.75 335.23,322.59 333.00,319.40C330.77,316.21 327.85,313.15 325.30,310.50C322.75,307.85 320.23,306.08 317.70,303.50C315.17,300.92 312.00,296.83 310.10,295.00C308.20,293.17 308.20,293.17 306.30,292.50C304.40,291.83 301.25,290.78 298.70,291.00C296.15,291.22 293.55,292.22 291.00,293.80C288.45,295.38 286.00,298.28 283.40,300.50C280.80,302.72 276.73,306.00 275.40,307.10Z" fill="rgb(0,0,255)" fill-opacity="0.15" stroke="rgb(0,0,255)" stroke-opacity="0.18" stroke-width="0.8"/>
<path d="M275.40,272.90C276.73,272.58 280.80,271.38 283.40,271.00C286.00,270.62 288.45,270.23 291.00,270.60C293.55,270.97 296.15,271.87 298.70,273.20C301.25,274.53 303.77,276.38 306.30,278.60C308.83,280.82 311.37,283.52 313.90,286.50C316.43,289.48 318.97,292.75 321.50,296.50C324.03,300.25 326.55,304.93 329.10,309.00C331.65,313.07 334.65,317.32 336.80,320.90C338.95,324.48 340.20,327.27 342.00,330.50C343.80,333.73 345.40,337.47 347.60,340.30C349.80,343.13 352.33,345.58 355.20,347.50C358.07,349.42 361.62,351.08 364.80,351.80C367.98,352.52 371.13,352.17 374.30,351.80C377.47,351.43 381.07,350.85 383.80,349.60C386.53,348.35 387.77,346.80 390.70,344.30C393.63,341.80 397.83,338.25 401.40,334.60C404.97,330.95 408.52,325.93 412.10,322.40C415.68,318.87 419.32,315.87 422.90,313.40C426.48,310.93 430.03,308.98 433.60,307.60C437.17,306.22 441.48,305.57 444.30,305.10C447.12,304.63 449.47,304.85 450.50,304.80" fill="none" stroke="rgb(226,40,80)" stroke-width="0.78"/>
<path d="M275.40,289.00C276.73,288.22 280.80,285.88 283.40,284.30C286.00,282.72 288.45,280.62 291.00,279.50C293.55,278.38 296.15,277.60 298.70,277.60C301.25,277.60 303.77,278.40 306.30,279.50C308.83,280.60 311.37,282.27 313.90,284.20C316.43,286.13 318.97,288.05 321.50,291.10C324.03,294.15 326.55,298.60 329.10,302.50C331.65,306.40 334.65,311.00 336.80,314.50C338.95,318.00 340.20,320.33 342.00,323.50C343.80,326.67 345.40,329.25 347.60,333.50C349.80,337.75 352.33,345.58 355.20,349.00C358.07,352.42 361.62,353.12 364.80,354.00C367.98,354.88 371.13,354.63 374.30,354.30C377.47,353.97 381.07,352.97 383.80,352.00C386.53,351.03 387.77,350.45 390.70,348.50C393.63,346.55 397.83,343.80 401.40,340.32C404.97,336.83 408.52,331.56 412.10,327.59C415.68,323.62 419.32,319.50 422.90,316.50C426.48,313.50 430.03,311.30 433.60,309.60C437.17,307.90 441.48,306.93 444.30,306.30C447.12,305.67 449.47,305.88 450.50,305.80" fill="none" stroke="rgb(60,60,242)" stroke-width="0.82" stroke-dasharray="4.2,2.6"/>
<line x1="347.45" y1="233.9" x2="347.45" y2="386.3" stroke="#767676" stroke-width="0.75"/>
<line x1="360.55" y1="233.9" x2="360.55" y2="386.3" stroke="#767676" stroke-width="0.75"/>
<line x1="350.55" y1="386.3" x2="350.55" y2="233.9" stroke="#767676" stroke-width="0.75" stroke-dasharray="4.3,3.1"/>
<line x1="365.65" y1="386.3" x2="365.65" y2="233.9" stroke="#767676" stroke-width="0.75" stroke-dasharray="4.3,3.1"/>
</g>
<rect x="275.2" y="233.9" width="175.1" height="152.4" fill="none" stroke="#8f8f8f" stroke-width="1"/>
<line x1="275.2" y1="386.3" x2="275.2" y2="384.3" stroke="#8f8f8f" stroke-width="1"/>
<line x1="275.2" y1="233.9" x2="275.2" y2="235.9" stroke="#8f8f8f" stroke-width="1"/>
<line x1="362.75" y1="386.3" x2="362.75" y2="384.3" stroke="#8f8f8f" stroke-width="1"/>
<line x1="362.75" y1="233.9" x2="362.75" y2="235.9" stroke="#8f8f8f" stroke-width="1"/>
<line x1="450.3" y1="386.3" x2="450.3" y2="384.3" stroke="#8f8f8f" stroke-width="1"/>
<line x1="450.3" y1="233.9" x2="450.3" y2="235.9" stroke="#8f8f8f" stroke-width="1"/>
<line x1="275.2" y1="386.3" x2="277.2" y2="386.3" stroke="#8f8f8f" stroke-width="1"/>
<line x1="450.3" y1="386.3" x2="448.3" y2="386.3" stroke="#8f8f8f" stroke-width="1"/>
<line x1="275.2" y1="348.2" x2="277.2" y2="348.2" stroke="#8f8f8f" stroke-width="1"/>
<line x1="450.3" y1="348.2" x2="448.3" y2="348.2" stroke="#8f8f8f" stroke-width="1"/>
<line x1="275.2" y1="310.1" x2="277.2" y2="310.1" stroke="#8f8f8f" stroke-width="1"/>
<line x1="450.3" y1="310.1" x2="448.3" y2="310.1" stroke="#8f8f8f" stroke-width="1"/>
<line x1="275.2" y1="272" x2="277.2" y2="272" stroke="#8f8f8f" stroke-width="1"/>
<line x1="450.3" y1="272" x2="448.3" y2="272" stroke="#8f8f8f" stroke-width="1"/>
<line x1="275.2" y1="233.9" x2="277.2" y2="233.9" stroke="#8f8f8f" stroke-width="1"/>
<line x1="450.3" y1="233.9" x2="448.3" y2="233.9" stroke="#8f8f8f" stroke-width="1"/>
<text x="39.9" y="158.98" font-size="10.3" text-anchor="end" font-weight="normal" fill="#262626" stroke="#262626" stroke-width="0.15">0</text>
<text x="39.9" y="132.424" font-size="10.3" text-anchor="end" font-weight="normal" fill="#262626" stroke="#262626" stroke-width="0.15">20</text>
<text x="39.9" y="105.868" font-size="10.3" text-anchor="end" font-weight="normal" fill="#262626" stroke="#262626" stroke-width="0.15">40</text>
<text x="39.9" y="79.3119" font-size="10.3" text-anchor="end" font-weight="normal" fill="#262626" stroke="#262626" stroke-width="0.15">60</text>
<text x="39.9" y="52.7559" font-size="10.3" text-anchor="end" font-weight="normal" fill="#262626" stroke="#262626" stroke-width="0.15">80</text>
<text x="39.9" y="26.2" font-size="10.3" text-anchor="end" font-weight="normal" fill="#262626" stroke="#262626" stroke-width="0.15">100</text>
<text x="44.2" y="188.8" font-size="10.3" text-anchor="middle" font-weight="normal" fill="#262626" stroke="#262626" stroke-width="0.15">0</text>
<text x="131.55" y="188.8" font-size="10.3" text-anchor="middle" font-weight="normal" fill="#262626" stroke="#262626" stroke-width="0.15">50</text>
<text x="218.9" y="188.8" font-size="10.3" text-anchor="middle" font-weight="normal" fill="#262626" stroke="#262626" stroke-width="0.15">100</text>
<text x="131.55" y="203.8" font-size="11.8" text-anchor="middle" font-weight="normal" fill="#262626" stroke="#262626" stroke-width="0.15">% STS Cycle</text>
<text x="0" y="0" font-size="11.8" text-anchor="middle" fill="#262626" stroke="#262626" stroke-width="0.15" transform="translate(18,97.35) rotate(-90)">Angle (deg)</text>
<text x="271" y="178" font-size="10.3" text-anchor="end" font-weight="normal" fill="#262626" stroke="#262626" stroke-width="0.15">0</text>
<text x="271" y="150" font-size="10.3" text-anchor="end" font-weight="normal" fill="#262626" stroke="#262626" stroke-width="0.15">20</text>
<text x="271" y="122" font-size="10.3" text-anchor="end" font-weight="normal" fill="#262626" stroke="#262626" stroke-width="0.15">40</text>
<text x="271" y="94" font-size="10.3" text-anchor="end" font-weight="normal" fill="#262626" stroke="#262626" stroke-width="0.15">60</text>
<text x="271" y="66" font-size="10.3" text-anchor="end" font-weight="normal" fill="#262626" stroke="#262626" stroke-width="0.15">80</text>
<text x="271" y="38" font-size="10.3" text-anchor="end" font-weight="normal" fill="#262626" stroke="#262626" stroke-width="0.15">100</text>
<text x="275.3" y="188.7" font-size="10.3" text-anchor="middle" font-weight="normal" fill="#262626" stroke="#262626" stroke-width="0.15">0</text>
<text x="362.85" y="188.7" font-size="10.3" text-anchor="middle" font-weight="normal" fill="#262626" stroke="#262626" stroke-width="0.15">50</text>
<text x="450.4" y="188.7" font-size="10.3" text-anchor="middle" font-weight="normal" fill="#262626" stroke="#262626" stroke-width="0.15">100</text>
<text x="362.85" y="203.7" font-size="11.8" text-anchor="middle" font-weight="normal" fill="#262626" stroke="#262626" stroke-width="0.15">% STS Cycle</text>
<text x="0" y="0" font-size="11.8" text-anchor="middle" fill="#262626" stroke="#262626" stroke-width="0.15" transform="translate(249.1,97.25) rotate(-90)">Angle (deg)</text>
<text x="502.3" y="178.1" font-size="10.3" text-anchor="end" font-weight="normal" fill="#262626" stroke="#262626" stroke-width="0.15">-10</text>
<text x="502.3" y="147.72" font-size="10.3" text-anchor="end" font-weight="normal" fill="#262626" stroke="#262626" stroke-width="0.15">0</text>
<text x="502.3" y="117.34" font-size="10.3" text-anchor="end" font-weight="normal" fill="#262626" stroke="#262626" stroke-width="0.15">10</text>
<text x="502.3" y="86.96" font-size="10.3" text-anchor="end" font-weight="normal" fill="#262626" stroke="#262626" stroke-width="0.15">20</text>
<text x="502.3" y="56.58" font-size="10.3" text-anchor="end" font-weight="normal" fill="#262626" stroke="#262626" stroke-width="0.15">30</text>
<text x="502.3" y="26.2" font-size="10.3" text-anchor="end" font-weight="normal" fill="#262626" stroke="#262626" stroke-width="0.15">40</text>
<text x="506.6" y="188.8" font-size="10.3" text-anchor="middle" font-weight="normal" fill="#262626" stroke="#262626" stroke-width="0.15">0</text>
<text x="594.1" y="188.8" font-size="10.3" text-anchor="middle" font-weight="normal" fill="#262626" stroke="#262626" stroke-width="0.15">50</text>
<text x="681.6" y="188.8" font-size="10.3" text-anchor="middle" font-weight="normal" fill="#262626" stroke="#262626" stroke-width="0.15">100</text>
<text x="594.1" y="203.8" font-size="11.8" text-anchor="middle" font-weight="normal" fill="#262626" stroke="#262626" stroke-width="0.15">% STS Cycle</text>
<text x="0" y="0" font-size="11.8" text-anchor="middle" fill="#262626" stroke="#262626" stroke-width="0.15" transform="translate(480.4,97.35) rotate(-90)">Angle (deg)</text>
<text x="39.9" y="390.8" font-size="10.3" text-anchor="end" font-weight="normal" fill="#262626" stroke="#262626" stroke-width="0.15">-20</text>
<text x="39.9" y="352.7" font-size="10.3" text-anchor="end" font-weight="normal" fill="#262626" stroke="#262626" stroke-width="0.15">0</text>
<text x="39.9" y="314.6" font-size="10.3" text-anchor="end" font-weight="normal" fill="#262626" stroke="#262626" stroke-width="0.15">20</text>
<text x="39.9" y="276.5" font-size="10.3" text-anchor="end" font-weight="normal" fill="#262626" stroke="#262626" stroke-width="0.15">40</text>
<text x="39.9" y="238.4" font-size="10.3" text-anchor="end" font-weight="normal" fill="#262626" stroke="#262626" stroke-width="0.15">60</text>
<text x="44.2" y="401.8" font-size="10.3" text-anchor="middle" font-weight="normal" fill="#262626" stroke="#262626" stroke-width="0.15">0</text>
<text x="131.65" y="401.8" font-size="10.3" text-anchor="middle" font-weight="normal" fill="#262626" stroke="#262626" stroke-width="0.15">50</text>
<text x="219.1" y="401.8" font-size="10.3" text-anchor="middle" font-weight="normal" fill="#262626" stroke="#262626" stroke-width="0.15">100</text>
<text x="131.65" y="416.8" font-size="11.8" text-anchor="middle" font-weight="normal" fill="#262626" stroke="#262626" stroke-width="0.15">% STS Cycle</text>
<text x="0" y="0" font-size="11.8" text-anchor="middle" fill="#262626" stroke="#262626" stroke-width="0.15" transform="translate(18,310.1) rotate(-90)">Angle (deg)</text>
<text x="270.9" y="390.8" font-size="10.3" text-anchor="end" font-weight="normal" fill="#262626" stroke="#262626" stroke-width="0.15">-40</text>
<text x="270.9" y="352.7" font-size="10.3" text-anchor="end" font-weight="normal" fill="#262626" stroke="#262626" stroke-width="0.15">-20</text>
<text x="270.9" y="314.6" font-size="10.3" text-anchor="end" font-weight="normal" fill="#262626" stroke="#262626" stroke-width="0.15">0</text>
<text x="270.9" y="276.5" font-size="10.3" text-anchor="end" font-weight="normal" fill="#262626" stroke="#262626" stroke-width="0.15">20</text>
<text x="270.9" y="238.4" font-size="10.3" text-anchor="end" font-weight="normal" fill="#262626" stroke="#262626" stroke-width="0.15">40</text>
<text x="275.2" y="401.8" font-size="10.3" text-anchor="middle" font-weight="normal" fill="#262626" stroke="#262626" stroke-width="0.15">0</text>
<text x="362.75" y="401.8" font-size="10.3" text-anchor="middle" font-weight="normal" fill="#262626" stroke="#262626" stroke-width="0.15">50</text>
<text x="450.3" y="401.8" font-size="10.3" text-anchor="middle" font-weight="normal" fill="#262626" stroke="#262626" stroke-width="0.15">100</text>
<text x="362.75" y="416.8" font-size="11.8" text-anchor="middle" font-weight="normal" fill="#262626" stroke="#262626" stroke-width="0.15">% STS Cycle</text>
<text x="0" y="0" font-size="11.8" text-anchor="middle" fill="#262626" stroke="#262626" stroke-width="0.15" transform="translate(249,310.1) rotate(-90)">Angle (deg)</text>
<text x="131.55" y="16.6" font-size="11.9" text-anchor="middle" font-weight="bold" fill="#000">Hip (+ Flexion)</text>
<text x="362.85" y="16.5" font-size="11.9" text-anchor="middle" font-weight="bold" fill="#000">Knee (+ Flexion)</text>
<text x="594.1" y="16.6" font-size="11.9" text-anchor="middle" font-weight="bold" fill="#000">Ankle (+ Dorsiflexion)</text>
<text x="131.65" y="229.1" font-size="11.9" text-anchor="middle" font-weight="bold" fill="#000">Lumbar (+ Flexion)</text>
<text x="362.75" y="229.1" font-size="11.9" text-anchor="middle" font-weight="bold" fill="#000">Pelvic Tilt (+ Posterior)</text>
<text x="0" y="12.4" font-size="16" text-anchor="start" font-weight="bold" fill="#000">(a)</text>
<text x="236.3" y="12.4" font-size="16" text-anchor="start" font-weight="bold" fill="#000">(b)</text>
<text x="467.4" y="12.2" font-size="16" text-anchor="start" font-weight="bold" fill="#000">(c)</text>
<text x="0.3" y="223.6" font-size="16" text-anchor="start" font-weight="bold" fill="#000">(d)</text>
<text x="236.3" y="223.6" font-size="16" text-anchor="start" font-weight="bold" fill="#000">(e)</text>
<text x="52.4" y="170.2" font-size="14.6" text-anchor="start" font-weight="normal" fill="#000" letter-spacing="0.15" stroke="#000" stroke-width="0.2">Phase 1</text>
<text x="139.1" y="170.2" font-size="14.6" text-anchor="start" font-weight="normal" fill="#000" letter-spacing="0.15" stroke="#000" stroke-width="0.2">Phase 3</text>
<text x="277.4" y="170" font-size="14.6" text-anchor="start" font-weight="normal" fill="#000" letter-spacing="0.15" stroke="#000" stroke-width="0.2">Phase 1</text>
<text x="368.8" y="170" font-size="14.6" text-anchor="start" font-weight="normal" fill="#000" letter-spacing="0.15" stroke="#000" stroke-width="0.2">Phase 3</text>
<text x="510.9" y="169.7" font-size="14.6" text-anchor="start" font-weight="normal" fill="#000" letter-spacing="0.15" stroke="#000" stroke-width="0.2">Phase 1</text>
<text x="598.1" y="169.6" font-size="14.6" text-anchor="start" font-weight="normal" fill="#000" letter-spacing="0.15" stroke="#000" stroke-width="0.2">Phase 3</text>
<text x="52.5" y="380.5" font-size="14.6" text-anchor="start" font-weight="normal" fill="#000" letter-spacing="0.15" stroke="#000" stroke-width="0.2">Phase 1</text>
<text x="139.3" y="380.5" font-size="14.6" text-anchor="start" font-weight="normal" fill="#000" letter-spacing="0.15" stroke="#000" stroke-width="0.2">Phase 3</text>
<text x="277.6" y="380.5" font-size="14.6" text-anchor="start" font-weight="normal" fill="#000" letter-spacing="0.15" stroke="#000" stroke-width="0.2">Phase 1</text>
<text x="443.4" y="380.5" font-size="14.6" text-anchor="end" font-weight="normal" fill="#000" letter-spacing="0.15" stroke="#000" stroke-width="0.2">Phase 3</text>
<g stroke="#000" stroke-width="2.6" stroke-linecap="butt"><line x1="44.80" y1="35.20" x2="44.80" y2="29.60"/><line x1="44.80" y1="35.20" x2="50.13" y2="33.47"/><line x1="44.80" y1="35.20" x2="48.09" y2="39.73"/><line x1="44.80" y1="35.20" x2="41.51" y2="39.73"/><line x1="44.80" y1="35.20" x2="39.47" y2="33.47"/></g>
<g stroke="#000" stroke-width="2.6" stroke-linecap="butt"><line x1="274.40" y1="247.90" x2="274.40" y2="242.30"/><line x1="274.40" y1="247.90" x2="279.73" y2="246.17"/><line x1="274.40" y1="247.90" x2="277.69" y2="252.43"/><line x1="274.40" y1="247.90" x2="271.11" y2="252.43"/><line x1="274.40" y1="247.90" x2="269.07" y2="246.17"/></g>
<g stroke="#000" stroke-width="2.5"><line x1="568.9" y1="30.8" x2="579.6" y2="30.8"/><line x1="574.3" y1="25.7" x2="574.3" y2="35.9"/></g>
<rect x="536.5" y="283.5" width="101" height="37.5" fill="#fff" stroke="#a0a0a0" stroke-width="1"/>
<line x1="538" y1="293.2" x2="559.7" y2="293.2" stroke="#f4a3a3" stroke-width="1.6"/>
<line x1="538" y1="311.5" x2="559.7" y2="311.5" stroke="#5a5af5" stroke-width="0.9" stroke-dasharray="4.7,2.1"/>
<text x="561.4" y="298.6" font-size="14.3" fill="#000">Before TKA</text>
<text x="561.4" y="316.6" font-size="14.3" fill="#000">After TKA</text>
</svg></body></html>
